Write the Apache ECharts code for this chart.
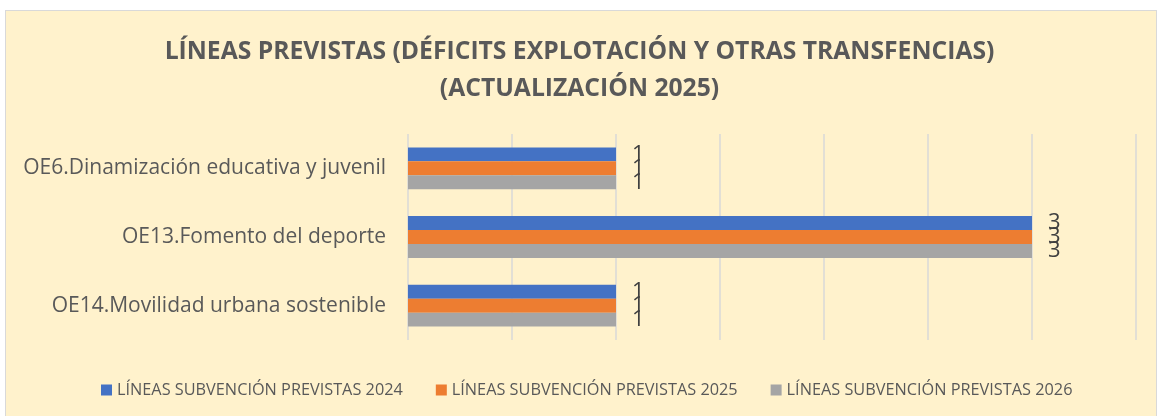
<!DOCTYPE html>
<html>
<head>
<meta charset="utf-8">
<script src="https://cdn.jsdelivr.net/npm/echarts@6/dist/echarts.min.js"></script>
<style>
html,body{margin:0;padding:0;background:#fff;width:1159px;height:416px;overflow:hidden;}
#frame{position:absolute;left:5px;top:10px;width:1152px;height:420px;border:1px solid #d9d9d9;background:#FFF2CC;box-sizing:border-box;}
#chart{position:absolute;left:0;top:0;width:1159px;height:416px;}
</style>
</head>
<body>
<div id="frame"></div>
<div id="chart"></div>
<script>
var categories = ["OE6.Dinamización educativa y juvenil", "OE13.Fomento del deporte", "OE14.Movilidad urbana sostenible"];
var seriesNames = ["LÍNEAS SUBVENCIÓN PREVISTAS 2024", "LÍNEAS SUBVENCIÓN PREVISTAS 2025", "LÍNEAS SUBVENCIÓN PREVISTAS 2026"];
var values2024 = [1, 3, 1];
var values2025 = [1, 3, 1];
var values2026 = [1, 3, 1];
var titleLines = ["LÍNEAS PREVISTAS (DÉFICITS EXPLOTACIÓN Y OTRAS TRANSFENCIAS)", "(ACTUALIZACIÓN 2025)"];

var colors = ["#4472C4", "#ED7D31", "#A5A5A5"];
var font = "'Open Sans', 'Liberation Sans', sans-serif";
var seriesData = [values2024, values2025, values2026];

var chart = echarts.init(document.getElementById('chart'), null, {renderer: 'canvas'});
chart.setOption({
  backgroundColor: 'transparent',
  animation: false,
  title: {
    text: titleLines.join('\n'),
    left: 'center',
    top: 28,
    textStyle: {fontFamily: font, fontSize: 24.7, fontWeight: 'bold', color: '#595959', lineHeight: 37}
  },
  legend: {
    bottom: 13,
    left: 96,
    itemWidth: 11,
    itemHeight: 11,
    itemGap: 33,
    icon: 'rect',
    textStyle: {fontFamily: font, fontSize: 16.3, color: '#595959'},
    data: seriesNames
  },
  grid: {left: 408, right: 23, top: 134, bottom: 76, containLabel: false},
  xAxis: {
    type: 'value',
    min: 0, max: 3.5, interval: 0.5,
    axisLabel: {show: false},
    axisLine: {show: false},
    axisTick: {show: false},
    splitLine: {show: true, lineStyle: {color: '#D9D9D9', width: 1.5}}
  },
  yAxis: {
    type: 'category',
    inverse: true,
    data: categories,
    axisLine: {show: false},
    axisTick: {show: false},
    axisLabel: {fontFamily: font, fontSize: 21, color: '#595959', margin: 22}
  },
  series: seriesNames.map(function (name, i) {
    return {
      name: name,
      type: 'bar',
      data: seriesData[i],
      barGap: '0%',
      barCategoryGap: '39%',
      itemStyle: {color: colors[i]},
      label: {
        show: true,
        position: 'right',
        distance: 16,
        fontFamily: font,
        fontSize: 22,
        color: '#404040'
      }
    };
  })
});
</script>
</body>
</html>
